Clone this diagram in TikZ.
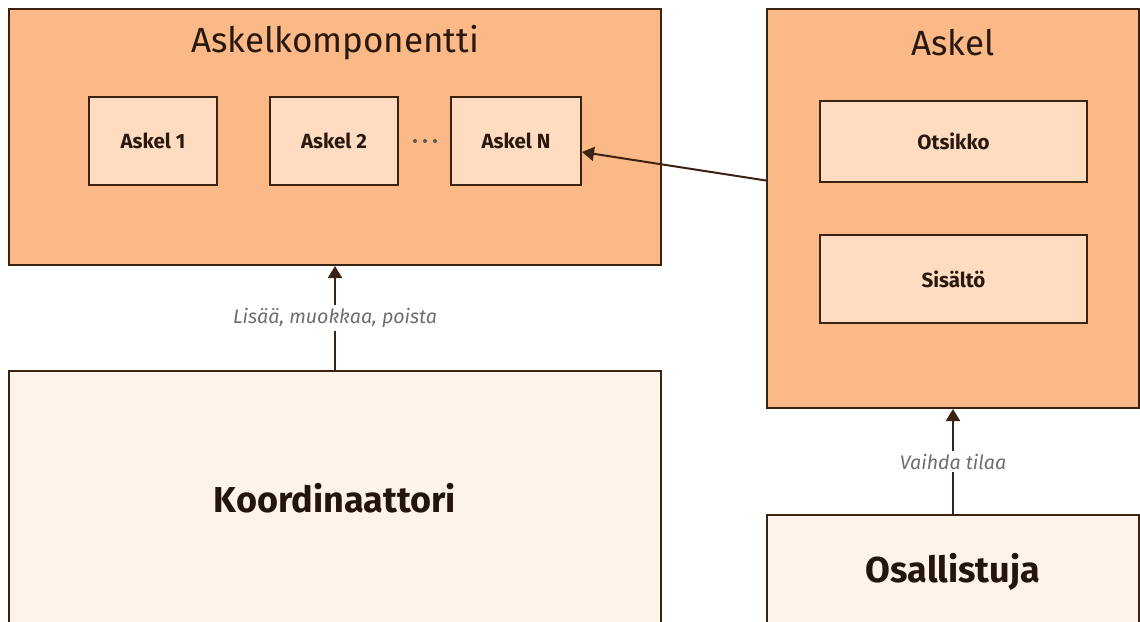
\documentclass[tikz,border=0pt]{standalone}
\usepackage{fontspec}
\setmainfont{Fira Sans}
\usetikzlibrary{arrows.meta, positioning}
\definecolor{peach}{HTML}{FAB987}
\definecolor{lightpeach}{HTML}{FEDCC1}
\definecolor{cream}{HTML}{FEF3E8}
\definecolor{umber}{HTML}{3B2314}
\definecolor{labelgray}{HTML}{6E6E6E}
\def\bw{2pt}

\begin{document}
\begin{tikzpicture}[x=1pt,y=-1pt,line width=\bw,draw=umber]
    \tikzstyle{box}=[rectangle,draw=umber,line width=\bw,inner sep=0pt]
    \tikzstyle{container}=[box,fill=peach]
    \tikzstyle{stepbox}=[box,fill=lightpeach,font=\fontsize{20.5}{24}\selectfont\bfseries,text=umber!70!black]
    \tikzstyle{actor}=[box,fill=cream,font=\fontsize{36}{42}\selectfont\bfseries,text=umber!60!black]
    \tikzstyle{title}=[font=\fontsize{35}{40}\selectfont,text=umber!70!black]
    \tikzstyle{annot}=[fill=white,inner sep=3pt,font=\fontsize{19.6}{23}\selectfont\itshape,text=labelgray]
    \tikzstyle{link}=[->,>={Triangle[width=14pt,length=12pt]},draw=umber,line width=\bw]

    \useasboundingbox (0,0) rectangle (1140,621);

    % Containers
    \node[container,minimum width=652pt,minimum height=256pt] (komp) at (335,137) {};
    \node[title] (kompT) at (335,43) {Askelkomponentti};
    \node[container,minimum width=372pt,minimum height=399pt] (askel) at (953,208.5) {};
    \node[title] (askelT) at (953,43) {Askel};

    % Steps inside the component
    \node[stepbox,minimum width=128pt,minimum height=88pt] (S-1) at (153,141) {Askel 1};
    \node[stepbox,minimum width=128pt,minimum height=88pt] (S-2) at (334,141) {Askel 2};
    \node[stepbox,minimum width=130pt,minimum height=88pt] (S-N) at (516,141) {Askel N};
    \draw[draw=labelgray!80!black,line width=4pt,line cap=round,dash pattern=on 0pt off 10pt,
          shorten <=16pt,shorten >=14pt] (S-2) -- (S-N);

    % Parts of a step
    \node[stepbox,minimum width=267pt,minimum height=81pt] (otsikko) at (953.5,141.5) {Otsikko};
    \node[stepbox,minimum width=267pt,minimum height=88pt] (sisalto) at (953.5,279) {Sisältö};

    % Actors
    \node[actor,minimum width=652pt,minimum height=254pt] (koord) at (335,498) {Koordinaattori};
    \node[actor,minimum width=372pt,minimum height=114pt] (osall) at (953,572) {Osallistuja};

    \draw[link] (koord) -- node[annot] {Lisää, muokkaa, poista} (komp);
    \draw[link] (osall) -- node[annot] {Vaihda tilaa} (askel);
    \draw[link] ([yshift=28pt]askel.west) -- ([yshift=-11pt]S-N.east);
\end{tikzpicture}
\end{document}
